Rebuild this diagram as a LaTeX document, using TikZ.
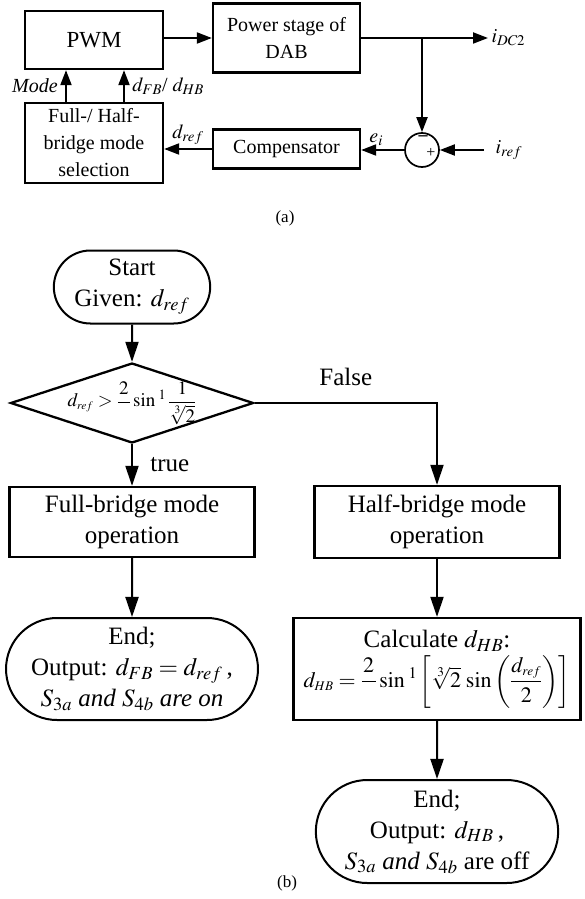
\documentclass[tikz,border=0pt]{standalone}
\usepackage{amsmath}
\usepackage{mathptmx}
\usepackage[no-math]{fontspec}
\setmainfont{Liberation Serif}
\usetikzlibrary{shapes.geometric, shapes.misc, arrows.meta}

\tikzstyle{block} = [rectangle, draw=black, line width=2.3pt, align=center, text centered]
\tikzstyle{startstop} = [rounded rectangle, draw=black, line width=2pt, align=center]
\tikzstyle{decision} = [diamond, draw=black, line width=2.3pt, minimum width=243pt, minimum height=80pt, inner sep=0pt]
\tikzstyle{sumjunc} = [circle, draw=black, line width=1.7pt, minimum size=34pt, inner sep=0pt]
\tikzstyle{arrow} = [line width=2pt, -{Triangle[length=15pt,width=11pt]}]
\tikzstyle{arrowb} = [line width=2pt, -{Triangle[length=20pt,width=13pt]}]
\tikzstyle{fonta} = [font=\fontsize{20}{27}\selectfont]
\tikzstyle{fontb} = [font=\fontsize{25}{31}\selectfont]

\begin{document}
\begin{tikzpicture}[x=1pt, y=-1pt]
\useasboundingbox (0,0) rectangle (584,899);

% (a) control loop
\begin{scope}[fonta]
\node (pwm) [block, minimum width=138pt, minimum height=58pt, font=\fontsize{23}{27}\selectfont] at (94,40) {PWM};
\node (power) [block, minimum width=147pt, minimum height=69pt, node distance=192.5pt, right of=pwm, yshift=2pt] {Power stage of\\DAB};
\node (sel) [block, minimum width=138pt, minimum height=80pt, node distance=103pt, below of=pwm] {Full-/ Half-\\bridge mode\\selection};
\node (comp) [block, minimum width=147pt, minimum height=39pt, node distance=192.5pt, right of=sel, yshift=-6pt] {Compensator};
\node (sum) [sumjunc, node distance=135.5pt, right of=comp, yshift=-1pt] {};
\node (minus) [font=\fontsize{18}{18}\selectfont\bfseries] at ([xshift=1pt,yshift=12pt]sum.center) {--};
\node (plus) [font=\fontsize{16}{16}\selectfont] at ([xshift=9pt,yshift=-3pt]sum.center) {+};
\node (idc) [anchor=west] at (488,38) {$i_{DC2}$};
\node (iref) [anchor=west] at (492,150) {$i_{ref}$};

\draw [arrow] (pwm.east |- power.west) -- (power.west);
\draw [arrow] (power.east) -- (idc.west);
\draw [arrow] (power.east -| sum.north) -- (sum.north);
\draw [arrow] ([xshift=-8pt]iref.west) -- (sum.east);
\draw [arrow] (sum.west) -- node[above, pos=0.65] {$e_i$} (sum.west -| comp.east);
\draw [arrow] (comp.west) -- node[above] {$d_{ref}$} (comp.west -| sel.east);
\draw [arrow] ([xshift=-28pt]sel.north) -- node[left=4pt] {\textit{Mode}} ([xshift=-28pt]pwm.south);
\draw [arrow] ([xshift=30pt]sel.north) -- node[right=4pt] {$d_{FB}$/ $d_{HB}$} ([xshift=30pt]pwm.south);
\end{scope}

\node (capa) [font=\fontsize{17}{17}\selectfont] at (285,218) {(a)};

% (b) mode selection flow
\begin{scope}[fontb]
\node (start) [startstop, minimum width=163pt, minimum height=73pt] at (132,287) {Start\\Given: $d_{ref}$};
\node (dec) [decision, node distance=116pt, below of=start] {};
\node (cond) [font=\fontsize{19}{19}\selectfont] at (dec.center) {$d_{\scriptscriptstyle ref} > \dfrac{2}{\phantom{\pi}}\sin^{\;1}\dfrac{1}{\sqrt[3]{2}}$};
\node (full) [block, minimum width=245pt, minimum height=70pt, node distance=119pt, below of=dec] {Full-bridge mode\\operation};
\node (endfb) [startstop, minimum width=247pt, minimum height=102pt, node distance=147pt, below of=full] {End;\\Output: $d_{FB} = d_{ref}$\,,\\$S_{3a}$ \textit{and} $S_{4b}$ \textit{are on}};
\node (half) [block, minimum width=245pt, minimum height=72pt, node distance=305pt, right of=full] {Half-bridge mode\\operation};
\node (calc) [block, minimum width=287pt, minimum height=102pt, node distance=147pt, below of=half] {Calculate $d_{HB}$:\\[3pt]{\fontsize{22}{22}\selectfont$d_{\scriptscriptstyle HB} = \dfrac{2}{\phantom{\pi}}\sin^{\;1}\left[\sqrt[3]{2}\,\sin\left(\dfrac{d_{\scriptscriptstyle ref}}{2}\right)\right]$}};
\node (endhb) [startstop, minimum width=249pt, minimum height=103pt, node distance=162.5pt, below of=calc] {End;\\Output: $d_{HB}$\,,\\$S_{3a}$ \textit{and} $S_{4b}$ are off};

\draw [arrowb] (start) -- (dec);
\draw [arrowb] (dec) -- node[right=14pt] {true} (full);
\draw [arrowb] (dec.east) -| node[pos=0.25, above=13pt] {False} (half.north);
\draw [arrowb] (full) -- (endfb);
\draw [arrowb] (half) -- (calc);
\draw [arrowb] (calc) -- (endhb);
\end{scope}

\node (capb) [font=\fontsize{17}{17}\selectfont] at (287,883) {(b)};
\end{tikzpicture}
\end{document}
